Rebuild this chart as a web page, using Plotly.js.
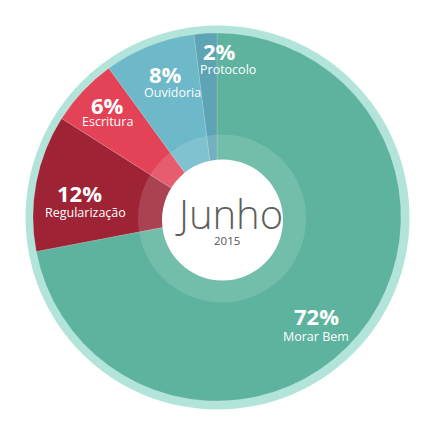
<!DOCTYPE html>
<html>
<head>
<meta charset="utf-8">
<script src="https://cdn.plot.ly/plotly-3.0.1.min.js"></script>
<style>
  html, body { margin: 0; padding: 0; background: #fff; }
  #myDiv { width: 430px; height: 430px; }
</style>
</head>
<body>
<div id="myDiv"></div>
<script>
  // data
  var categories = ['Morar Bem', 'Regularização', 'Escritura', 'Ouvidoria', 'Protocolo'];
  var shares = [72, 12, 6, 8, 2];
  var month = 'Junho';
  var year = '2015';

  var sliceColors = ['#5db39e', '#9e2335', '#e34257', '#6db8c9', '#5ea4b4'];

  // label centres in pixels [pctX, pctY, nameX, nameY]
  var labelPos = [
    [316, 316, 316, 336],
    [79, 193, 85, 212],
    [107, 105, 107, 122],
    [165, 74, 172, 92],
    [219, 51, 228, 69]
  ];

  var W = 430, H = 430;
  function dom(cx, cy, r) {
    return { x: [(cx - r) / W, (cx + r) / W], y: [1 - (cy + r) / H, 1 - (cy - r) / H] };
  }

  var ring = {
    type: 'pie', values: [1], labels: ['ring'], sort: false,
    marker: { colors: ['#b2e4d9'] }, textinfo: 'none', hoverinfo: 'skip',
    domain: dom(217.5, 217.5, 192), showlegend: false
  };

  var main = {
    type: 'pie', values: shares, labels: categories, sort: false,
    direction: 'clockwise', rotation: 0,
    marker: { colors: sliceColors, line: { color: 'rgba(255,255,255,0.25)', width: 0.6 } },
    textinfo: 'none', hoverinfo: 'label+percent',
    domain: dom(217, 217, 184), showlegend: false
  };

  var glow = {
    type: 'pie', values: [1], labels: ['glow'], sort: false,
    marker: { colors: ['rgba(255,255,255,0.14)'] }, textinfo: 'none', hoverinfo: 'skip',
    domain: dom(222, 218.5, 84), showlegend: false
  };

  var centre = {
    type: 'pie', values: [1], labels: ['centre'], sort: false,
    marker: { colors: ['#ffffff'] }, textinfo: 'none', hoverinfo: 'skip',
    domain: dom(222.5, 220, 60.5), showlegend: false
  };

  var data = [ring, main, glow, centre];

  var annotations = [];
  categories.forEach(function (name, i) {
    var p = labelPos[i];
    annotations.push({
      xref: 'paper', yref: 'paper', x: p[0] / W, y: 1 - p[1] / H,
      text: '<b>' + shares[i] + '%</b>', showarrow: false,
      xanchor: 'center', yanchor: 'middle',
      font: { family: 'Open Sans, sans-serif', size: 22, color: '#ffffff' }
    });
    annotations.push({
      xref: 'paper', yref: 'paper', x: p[2] / W, y: 1 - p[3] / H,
      text: name, showarrow: false,
      xanchor: 'center', yanchor: 'middle',
      font: { family: 'Open Sans, sans-serif', size: 12.5, color: '#ffffff' }
    });
  });

  annotations.push({
    xref: 'paper', yref: 'paper', x: 229 / W, y: 1 - 214 / H,
    text: month, showarrow: false, xanchor: 'center', yanchor: 'middle',
    font: { family: '"Open Sans Light", "Open Sans", sans-serif', size: 40, color: '#5e5e5e', weight: 300 }
  });
  annotations.push({
    xref: 'paper', yref: 'paper', x: 227 / W, y: 1 - 240 / H,
    text: year, showarrow: false, xanchor: 'center', yanchor: 'middle',
    font: { family: 'Open Sans, sans-serif', size: 11.5, color: '#555555' }
  });

  var layout = {
    width: W, height: H,
    margin: { l: 0, r: 0, t: 0, b: 0 },
    paper_bgcolor: '#ffffff',
    showlegend: false,
    annotations: annotations
  };

  Plotly.newPlot('myDiv', data, layout, { displayModeBar: false, staticPlot: true });
</script>
</body>
</html>
